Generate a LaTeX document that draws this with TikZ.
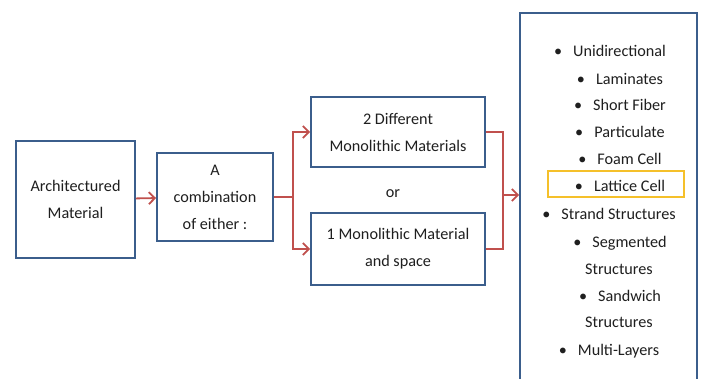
\documentclass[tikz,border=0pt]{standalone}
\usepackage{fontspec}
\setmainfont{Carlito}
\usetikzlibrary{arrows.meta,positioning}
\definecolor{boxBlue}{HTML}{3B5E8C}
\definecolor{linkRed}{HTML}{C0504D}
\definecolor{markGold}{HTML}{F5C02A}
\definecolor{inkGray}{HTML}{1F1F1F}
\tikzset{
  matBox/.style={draw=boxBlue, line width=1.8pt, fill=white, align=center, text=inkGray, inner sep=0pt},
  matText/.style={align=center, text=inkGray, inner sep=0pt},
  matItem/.style={anchor=base, text=inkGray, inner sep=0pt},
  matLink/.style={draw=linkRed, line width=1.8pt},
  matArrow/.style={matLink, -{Straight Barb[length=6pt, width=12pt, line width=1.8pt]}},
  matMark/.style={draw=markGold, line width=1.6pt, inner sep=0pt}
}
\newcommand{\itm}{\textbullet\hspace{11pt}}
\begin{document}
\begin{tikzpicture}[x=1pt, y=-1pt, font=\fontsize{16.2}{27}\selectfont]
  \clip (0,0) rectangle (702,378);
  \fill[white] (0,0) rectangle (702,378);
  % left part
  \node[matBox, minimum width=119pt, minimum height=117pt] (arch) at (75.5,199.5) {Architectured\\Material};
  \node[matBox, minimum width=116pt, minimum height=88pt] (combo) at (215,197) {A\\combination\\of either :};
  \node[matBox, minimum width=174pt, minimum height=70pt] (twomat) at (398,132) {2 Different\\Monolithic Materials};
  \node[matText] (or) at (393,194) {or};
  \node[matBox, minimum width=174pt, minimum height=72pt] (onemat) at (398,249) {1 Monolithic Material\\and space};
  % list of forms
  \node[matBox, minimum width=177pt, minimum height=390pt] (forms) at (608.5,208) {};
  \node[matMark, minimum width=136pt, minimum height=26pt] (latticebox) at (616,184) {};
  \node[matItem] (unidir) at (610,56) {\itm Unidirectional};
  \node[matItem] (lamin) at (620,84) {\itm Laminates};
  \node[matItem] (short) at (620,110) {\itm Short Fiber};
  \node[matItem] (partic) at (620,137) {\itm Particulate};
  \node[matItem] (foam) at (620,164) {\itm Foam Cell};
  \node[matItem] (lattice) at (620,191) {\itm Lattice Cell};
  \node[matItem] (strand) at (609,219) {\itm Strand Structures};
  \node[matItem] (segm) at (620,247) {\itm Segmented};
  \node[matItem] (segmb) at (619,274) {Structures};
  \node[matItem] (sandw) at (620,301) {\itm Sandwich};
  \node[matItem] (sandwb) at (619,327) {Structures};
  \node[matItem] (multi) at (609,355) {\itm Multi-Layers};
  % connectors
  \coordinate (split) at (293,197);
  \coordinate (merge) at (503,195);
  \draw[matArrow] (arch) -- (combo);
  \draw[matLink] (combo.east) -- (split);
  \draw[matArrow] (split) |- (twomat.west);
  \draw[matArrow] (split) |- (onemat.west);
  \draw[matLink] (twomat.east) -| (merge) |- (onemat.east);
  \draw[matArrow] (merge) -- (forms.west |- merge);
\end{tikzpicture}
\end{document}
